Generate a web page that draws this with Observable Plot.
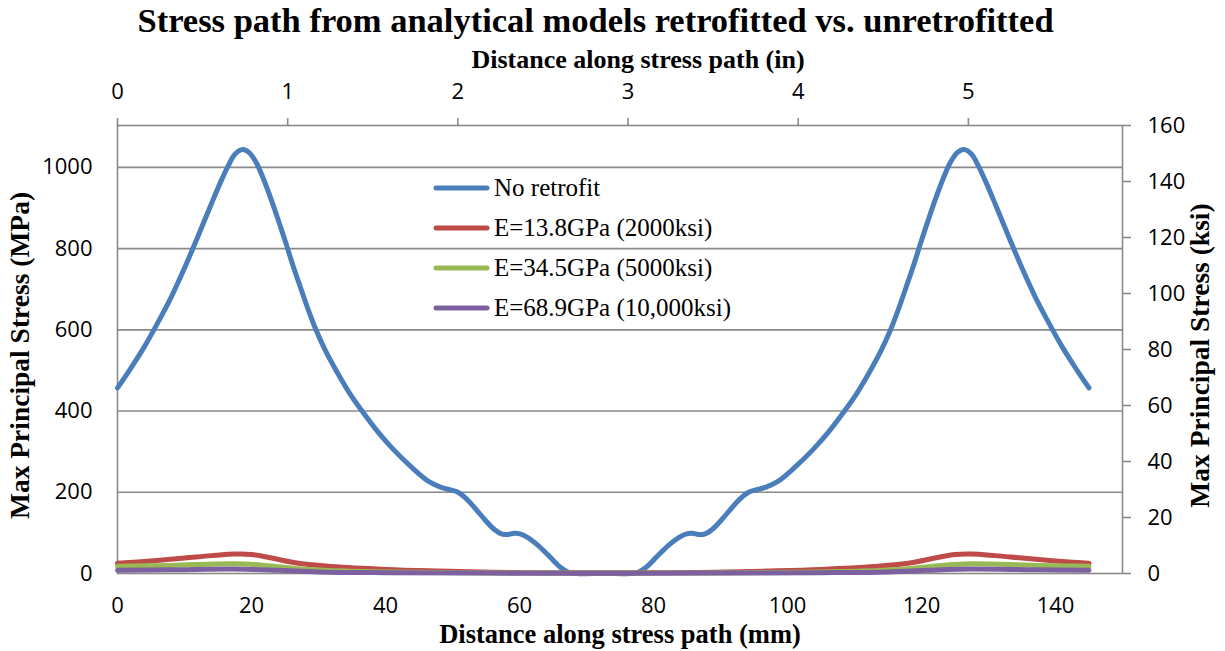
<!DOCTYPE html>
<html>
<head>
<meta charset="utf-8">
<script src="https://cdn.jsdelivr.net/npm/d3@7"></script>
<script src="https://cdn.jsdelivr.net/npm/@observablehq/plot@0.6"></script>
<style>
  html, body { margin: 0; padding: 0; background: white; }
  #wrap { position: relative; width: 1225px; height: 651px; overflow: hidden; }
  #legend { position: absolute; left: 433px; top: 168px; font-family: "Liberation Serif", "Times New Roman", serif; font-size: 25px; color: #000; }
  #legend .row { display: flex; align-items: center; height: 40px; white-space: nowrap; }
  #legend svg { margin-right: 4px; }
</style>
</head>
<body>
<div id="wrap"><div id="legend"></div></div>
<script>
// ---------- data ----------
const seriesNames = ["No retrofit", "E=13.8GPa (2000ksi)", "E=34.5GPa (5000ksi)", "E=68.9GPa (10,000ksi)"];
const seriesColors = ["#4A7EBB", "#BE4B48", "#98B954", "#7D60A0"];

const noRetrofitX = [0,2,4,6,8,10,12,14,15.5,16.5,17.5,18.7,19.7,20.7,21.7,23,24,25.2,26.2,27.3,28.5,29.7,31,32.8,34.6,36.5,38.8,41.2,44,46.5,48.3,49.7,50.8,52,53.3,54.8,56.2,57.4,58.3,59.2,60.2,61.3,62.5,63.8,65,66.2,67.3,68.5,72.5,
  76.5,77.7,78.8,80,81.2,82.5,83.7,84.8,85.8,86.7,87.6,88.8,90.2,91.7,93,94.2,95.3,96.7,98.5,101,103.8,106.2,108.5,110.4,112.2,114,115.3,116.5,117.7,118.8,119.8,121,122,123.3,124.3,125.3,126.3,127.5,128.5,129.5,131,133,135,137,139,141,143,145];
const noRetrofitY = [457,506,558,617,680,752,830,910,968,1003,1032,1044,1036,1012,975,918,870,810,758,705,648,597,550,495,445,400,350,305,260,226,212,206,200,185,162,133,109,97,96,99,97,88,73,53,33,14,3,0,0,
  0,3,14,33,53,73,88,97,99,96,97,109,133,162,185,200,206,212,226,260,305,350,400,445,495,550,597,648,705,758,810,870,918,975,1012,1036,1044,1032,1003,968,910,830,752,680,617,558,506,457];

const e2000X = [0,5,10,14,17.5,20,23,27,32,40,48,56,64,72.5,81,89,97,105,113,118,122,125,127.5,131,135,140,145];
const e2000Y = [25,31,38,44,48,47,38,25,17,10,6,3,2,2,2,3,6,10,17,25,38,47,48,44,38,31,25];

const e5000X = [0,8,17.5,22,27,34,44,56,72.5,89,101,111,118,123,127.5,137,145];
const e5000Y = [18,20,24,20,12,6,3,1.5,1,1.5,3,6,12,20,24,20,18];

const e10000X = [0,8,17.5,24,30,40,55,72.5,90,105,115,121,127.5,137,145];
const e10000Y = [8,9,11,8,4,2,1,0.5,1,2,4,8,11,9,8];

const xTicksMm = [0,20,40,60,80,100,120,140];
const xTicksIn = [0,1,2,3,4,5];
const yTicksMPa = [0,200,400,600,800,1000];
const yTicksKsi = [0,20,40,60,80,100,120,140,160];
const gridMPa = [200,400,600,800,1000];

const chartTitle = "Stress path from analytical models retrofitted vs. unretrofitted";
const xTitleTop = "Distance along stress path (in)";
const xTitleBottom = "Distance along stress path (mm)";
const yTitleLeft = "Max Principal Stress (MPa)";
const yTitleRight = "Max Principal Stress (ksi)";

// ---------- build ----------
const MPA_PER_KSI = 6.894757;
const MM_PER_IN = 25.4;
const toRows = (xs, ys) => xs.map((x, i) => ({x, y: ys[i]}));
const series = [
  toRows(noRetrofitX, noRetrofitY),
  toRows(e2000X, e2000Y),
  toRows(e5000X, e5000Y),
  toRows(e10000X, e10000Y)
];

const gray = "#8a8a8a";
const serif = "'Liberation Serif', 'Times New Roman', serif";
const titleStyle = {fontFamily: serif, fontWeight: "bold", fill: "#000", lineAnchor: "middle", textAnchor: "middle"};

const chart = Plot.plot({
  width: 1225,
  height: 651,
  marginTop: 125,
  marginRight: 103,
  marginBottom: 78,
  marginLeft: 117,
  style: {fontFamily: "'Open Sans', sans-serif", fontSize: "22px", color: "#000", background: "white", overflow: "visible"},
  x: {domain: [0, 150]},
  y: {domain: [0, 160 * MPA_PER_KSI]},
  marks: [
    Plot.gridY(gridMPa, {stroke: gray, strokeOpacity: 1, strokeWidth: 1.6}),
    Plot.frame({stroke: gray, strokeWidth: 1.6}),
    Plot.axisY({ticks: yTicksMPa, tickSize: 0, tickPadding: 25, label: null, tickFormat: d => String(d)}),
    Plot.axisY({anchor: "right", ticks: yTicksKsi.map(k => k * MPA_PER_KSI), tickFormat: d => String(Math.round(d / MPA_PER_KSI)), tickSize: 8, tickPadding: 17, stroke: gray, strokeWidth: 1.6, label: null}),
    Plot.axisX({ticks: xTicksMm, tickSize: 0, tickPadding: 24, label: null, tickFormat: d => String(d)}),
    Plot.axisX({anchor: "top", ticks: xTicksIn.map(v => v * MM_PER_IN), tickFormat: d => String(Math.round(d / MM_PER_IN)), tickSize: 8, tickPadding: 19, stroke: gray, strokeWidth: 1.6, label: null}),
    ...series.map((rows, i) => Plot.line(rows, {x: "x", y: "y", stroke: seriesColors[i], strokeWidth: 5, curve: "catmull-rom", strokeLinecap: "round", strokeLinejoin: "round"})),
    Plot.text([chartTitle], {...titleStyle, textAnchor: "start", text: d => d, frameAnchor: "top-left", dx: 20, dy: -105, fontSize: 34.5}),
    Plot.text([xTitleTop], {...titleStyle, text: d => d, frameAnchor: "top", dx: 18, dy: -66, fontSize: 26}),
    Plot.text([xTitleBottom], {...titleStyle, text: d => d, frameAnchor: "bottom", dy: 61, fontSize: 26.5}),
    Plot.text([yTitleLeft], {...titleStyle, text: d => d, frameAnchor: "left", dx: -97, dy: 6, rotate: -90, fontSize: 27.5}),
    Plot.text([yTitleRight], {...titleStyle, text: d => d, frameAnchor: "right", dx: 78, dy: 6, rotate: -90, fontSize: 27.5})
  ]
});
document.getElementById("wrap").prepend(chart);

// legend
const legend = document.getElementById("legend");
seriesNames.forEach((name, i) => {
  const row = document.createElement("div");
  row.className = "row";
  row.innerHTML = `<svg width="57" height="8"><line x1="3" y1="4" x2="54" y2="4" stroke="${seriesColors[i]}" stroke-width="5" stroke-linecap="round"/></svg><span>${name}</span>`;
  legend.appendChild(row);
});
</script>
</body>
</html>
